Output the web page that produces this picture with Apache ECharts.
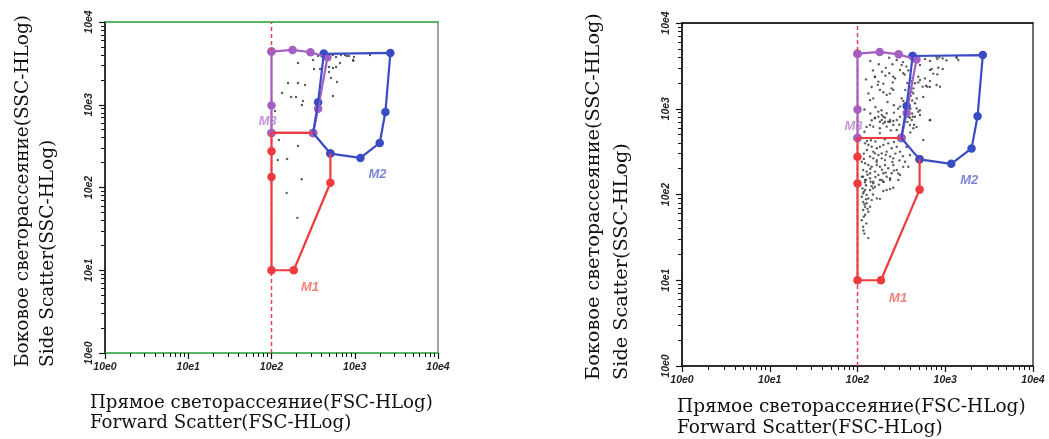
<!DOCTYPE html>
<html><head><meta charset="utf-8">
<script src="https://cdn.jsdelivr.net/npm/echarts@6/dist/echarts.min.js"></script>
<style>html,body{margin:0;padding:0;background:#fff}#c{width:1049px;height:439px}</style>
</head><body><div id="c"></div>
<script>
// ---------- data ----------
const decadeTicks = [1, 10, 100, 1000, 10000];
const decadeLabels = ['10e0', '10e1', '10e2', '10e3', '10e4'];
const minorTicks = [2,3,4,5,6,7,8,9, 20,30,40,50,60,70,80,90, 200,300,400,500,600,700,800,900, 2000,3000,4000,5000,6000,7000,8000,9000];
const thresholdFsc = 100;

const yNameText = 'Боковое светорассеяние(SSC-HLog)\nSide Scatter(SSC-HLog)';
const xNameText = 'Прямое светорассеяние(FSC-HLog)\nForward Scatter(FSC-HLog)';

// gates [FSC, SSC]
const gateM1 = [[316,456],[100,456],[100,275],[100,134],[100,10],[185,10],[510,114],[510,257]];
const gateM2 = [[425,4120],[2680,4230],[2335,816],[1995,345],[1170,228],[510,257],[316,456],[363,1075],[425,4120]];
const gateM3 = [[100,4390],[179,4600],[294,4310],[470,3750],[363,895],[316,456],[100,456],[100,980],[100,4390]];
const gateNames = ['M1', 'M2', 'M3'];
const gateLabelPos = [[290,6.2],[1880,145],[90,630]];

// events, left panel [FSC, SSC]
const leftEvents = [
 [208,3196],[315,3475],[362,3882],[404,3993],[452,4105],[491,3882],[548,3993],[596,3776],[684,3993],[764,3993],
 [853,3882],[953,3475],[979,3776],[1524,3993],[452,2940],[491,2858],[548,2780],[596,2858],[665,3196],[491,2488],
 [519,2106],[612,1884],[324,2704],[383,2704],[158,1833],[208,1833],[253,1733],[134,1387],[172,1241],[197,1241],
 [239,1110],[232,993],[548,1276],[110,840],[123,375],[208,318],[119,215],[154,221],[231,126],[152,86],[204,43],
 [800,3882],[960,3400]
];

// events, right panel [FSC, SSC]
const rightEvents = [
 [116,161],[125,148],[122,139],[141,141],[151,135],[189,148],[197,141],[235,155],[292,148],[114,118],
 [122,113],[139,113],[151,118],[158,123],[197,110],[215,113],[235,116],[256,120],[116,103],[112,94],
 [127,99],[133,90],[145,86],[166,90],[180,89],[116,82],[127,79],[122,72],[139,72],[116,66],
 [133,63],[122,58],[112,50],[116,42],[133,31],
 [158,774],[173,808],[189,740],[206,787],[235,706],[197,676],[139,646],[151,618],[180,592],[215,618],
 [256,646],[280,565],[379,808],[415,740],[396,646],[433,592],[670,740],[562,432],
 [122,395],[133,378],[145,361],[166,346],[180,361],[197,378],[224,395],[151,316],[158,302],[173,289],
 [189,302],[215,316],[245,346],[280,361],[305,316],[139,277],[151,264],[166,252],[189,264],[206,252],
 [235,277],[256,264],[112,241],[122,231],[133,221],[145,211],[166,221],[180,211],[206,221],[224,202],
 [256,221],[280,193],[116,193],[127,185],[139,177],[158,185],[173,169],[197,177],[215,161],[245,177],
 [112,161],[122,148],[139,155],[151,141],[180,148],[197,141],[235,148],[305,169],[348,241],[379,211],[396,289],
 [229,3940],[319,3240],[305,2830],[333,2590],[158,2360],[208,2430],[256,2360],[268,2260],[252,2030],[173,2070],
 [588,3800],[670,3600],[813,3800],[857,4010],[935,3870],[1349,3940],[1409,3700],[515,3240],[670,2830],[700,2910],
 [834,3010],[935,2910],[813,2520],[493,2360],[515,2160],[493,2030],[452,1980],[415,2100],[588,2260],[670,2100],
 [604,1860],[553,1810],[625,1810],[798,1890],[871,1810],[433,1730],[415,1580],[433,1510],[404,1420],[245,1730],
 [256,1660],[180,1660],[197,1560],[215,1450],[133,1510],[139,1260],[151,1320],[319,1320],[333,1230],[305,1060],
 [473,1320],[452,1160],[473,1010],[493,925],[515,845],[173,925],[189,845],[197,808],[215,885],[235,740],
 [158,787],[180,706],[206,706],[224,706],[256,720],[280,740],[396,787],[426,808],[452,808],[305,808],
 [795,4020],[1343,4020],[1033,3670],[668,1796],[561,1374],[668,735],[471,614],[514,960],[729,2570],[362,359],
 [332,210],[291,176],[117,38],[158,2350],[145,1796],[197,1963],[234,1503],[188,961],[127,614],[145,735],
 [128,420],[142,430],[160,415],[205,440],[260,410],[300,430],[118,300],[128,330],[210,290],[270,300],
 [330,280],[118,260],[165,240],[250,240],[300,250],[140,200],[190,195],[260,190],[130,170],[160,160],
 [210,180],[125,128],[145,125],[175,130],[118,108],[150,100],[125,88],[120,77],[130,68],[118,55],[126,46],[120,35],
 [330,3500],[360,3100],[380,2800],[345,2500],[400,2300],[370,2000],[390,1800],[350,1650],[420,1250],[380,1150],
 [400,1000],[350,950],[420,880],[370,700],[330,600],[440,650],[400,530],
 [140,3600],[175,3300],[210,3000],[250,3300],[280,3700],[300,4000],[150,2800],[190,2700],[230,2600],[125,2200],
 [170,1900],[220,1200],[260,1100],[160,1050],[120,980],[140,880],[260,900],[290,1000],[300,650],[240,560],
 [120,540],[180,520]
];

// ---------- styles ----------
const RED = '#ee3b3f', BLUE = '#3a4cc4', PURPLE = '#a45fc2';
const LABEL_COL = ['#f0605a', '#5a66cc', '#b679cc'];
const tickFont = {fontStyle:'italic', fontWeight:'bold', fontSize:10.5, fontFamily:'Liberation Sans, Arial', color:'#222'};

function labelFor(v) {
  const i = decadeTicks.findIndex(t => Math.abs(t - v) / t < 1e-6);
  return i >= 0 ? decadeLabels[i] : '';
}
// minor tick positions on a helper axis that runs in decades (0..4)
const minorTickDecades = minorTicks.map(v => Math.log10(v));

const panels = [
  {grid:{left:105, top:22, width:333, height:331}, frame:'#666', xLine:'#39b54a', events:leftEvents},
  {grid:{left:682, top:23, width:351, height:343}, frame:'#111', xLine:'#111', events:rightEvents}
];

const grid = [], xAxis = [], yAxis = [], series = [];
panels.forEach((p, pi) => {
  grid.push(Object.assign({show:true, borderColor:p.frame, borderWidth:1.2, backgroundColor:'#fff'}, p.grid));
  const xi = xAxis.length, yi = yAxis.length;
  const base = {gridIndex:pi, type:'log', logBase:10, min:1, max:10000, splitLine:{show:false}, minorTick:{show:false}};
  const minorBase = {gridIndex:pi, type:'value', min:0, max:4, splitLine:{show:false}, axisLabel:{show:false},
    axisLine:{show:false, onZero:false},
    axisTick:{show:true, customValues:minorTickDecades, length:4, lineStyle:{color:'#111', width:1}}};
  xAxis.push(Object.assign({}, base, {
    position:'bottom',
    axisLine:{show:true, onZero:false, lineStyle:{color:p.xLine, width:1.5}},
    axisTick:{show:true, length:6, lineStyle:{color:'#111', width:1.2}},
    axisLabel:Object.assign({formatter:labelFor, margin:9}, tickFont)
  }));
  xAxis.push(Object.assign({}, minorBase, {position:'bottom'}));
  xAxis.push(Object.assign({}, base, {
    position:'top', axisLine:{show:true, onZero:false, lineStyle:{color:p.xLine, width:1.5}},
    axisTick:{show:false}, axisLabel:{show:false}
  }));
  yAxis.push(Object.assign({}, base, {
    position:'left',
    axisLine:{show:true, onZero:false, lineStyle:{color:'#111', width:1.5}},
    axisTick:{show:true, length:6, lineStyle:{color:'#111', width:1.2}},
    axisLabel:Object.assign({formatter:labelFor, rotate:90, margin:10}, tickFont)
  }));
  yAxis.push(Object.assign({}, minorBase, {position:'left'}));
  const ax = {xAxisIndex:xi, yAxisIndex:yi};
  series.push(Object.assign({type:'line', data:[[thresholdFsc,1],[thresholdFsc,10000]], symbol:'none',
    lineStyle:{color:'#e8404a', width:1.5, type:[4,3]}}, ax));
  series.push(Object.assign({type:'scatter', data:p.events, symbolSize:2.4, itemStyle:{color:'#333'}}, ax));
  [[gateM3, PURPLE], [gateM2, BLUE], [gateM1, RED]].forEach(g => {
    series.push(Object.assign({type:'line', data:g[0], symbol:'none', lineStyle:{color:g[1], width:2.2}}, ax));
  });
  [[gateM1, RED], [gateM2, BLUE], [gateM3, PURPLE]].forEach(g => {
    series.push(Object.assign({type:'scatter', data:g[0], symbolSize:8.5, itemStyle:{color:g[1], opacity:1}}, ax));
  });
  series.push(Object.assign({type:'scatter', symbolSize:1, itemStyle:{color:'rgba(0,0,0,0)'}, z:10,
    data:gateNames.map((n, i) => ({name:n, value:gateLabelPos[i],
      label:{show:true, position:'inside', formatter:'{b}', color:LABEL_COL[i], fontSize:13, fontWeight:'bold', fontStyle:'italic', fontFamily:'Liberation Sans, Arial'}}))}, ax));
});

const serif = '"DejaVu Serif", "Liberation Serif", serif';
const graphic = [
  {type:'text', x:11, y:367, rotation:Math.PI/2, style:{text:yNameText, font:'18.5px ' + serif, fill:'#111', lineHeight:25, align:'left', verticalAlign:'top', textAlign:'left', textVerticalAlign:'top'}},
  {type:'text', x:90, y:393, style:{text:xNameText, font:'18.2px ' + serif, fill:'#111', lineHeight:20, align:'left', verticalAlign:'top', textAlign:'left', textVerticalAlign:'top'}},
  {type:'text', x:580, y:380, rotation:Math.PI/2, style:{text:yNameText, font:'19.3px ' + serif, fill:'#111', lineHeight:28, align:'left', verticalAlign:'top', textAlign:'left', textVerticalAlign:'top'}},
  {type:'text', x:677, y:397, style:{text:xNameText, font:'18.5px ' + serif, fill:'#111', lineHeight:21, align:'left', verticalAlign:'top', textAlign:'left', textVerticalAlign:'top'}}
];

const chart = echarts.init(document.getElementById('c'), null, {renderer:'canvas'});
chart.setOption({animation:false, backgroundColor:'#fff', grid, xAxis, yAxis, series, graphic});
</script></body></html>
